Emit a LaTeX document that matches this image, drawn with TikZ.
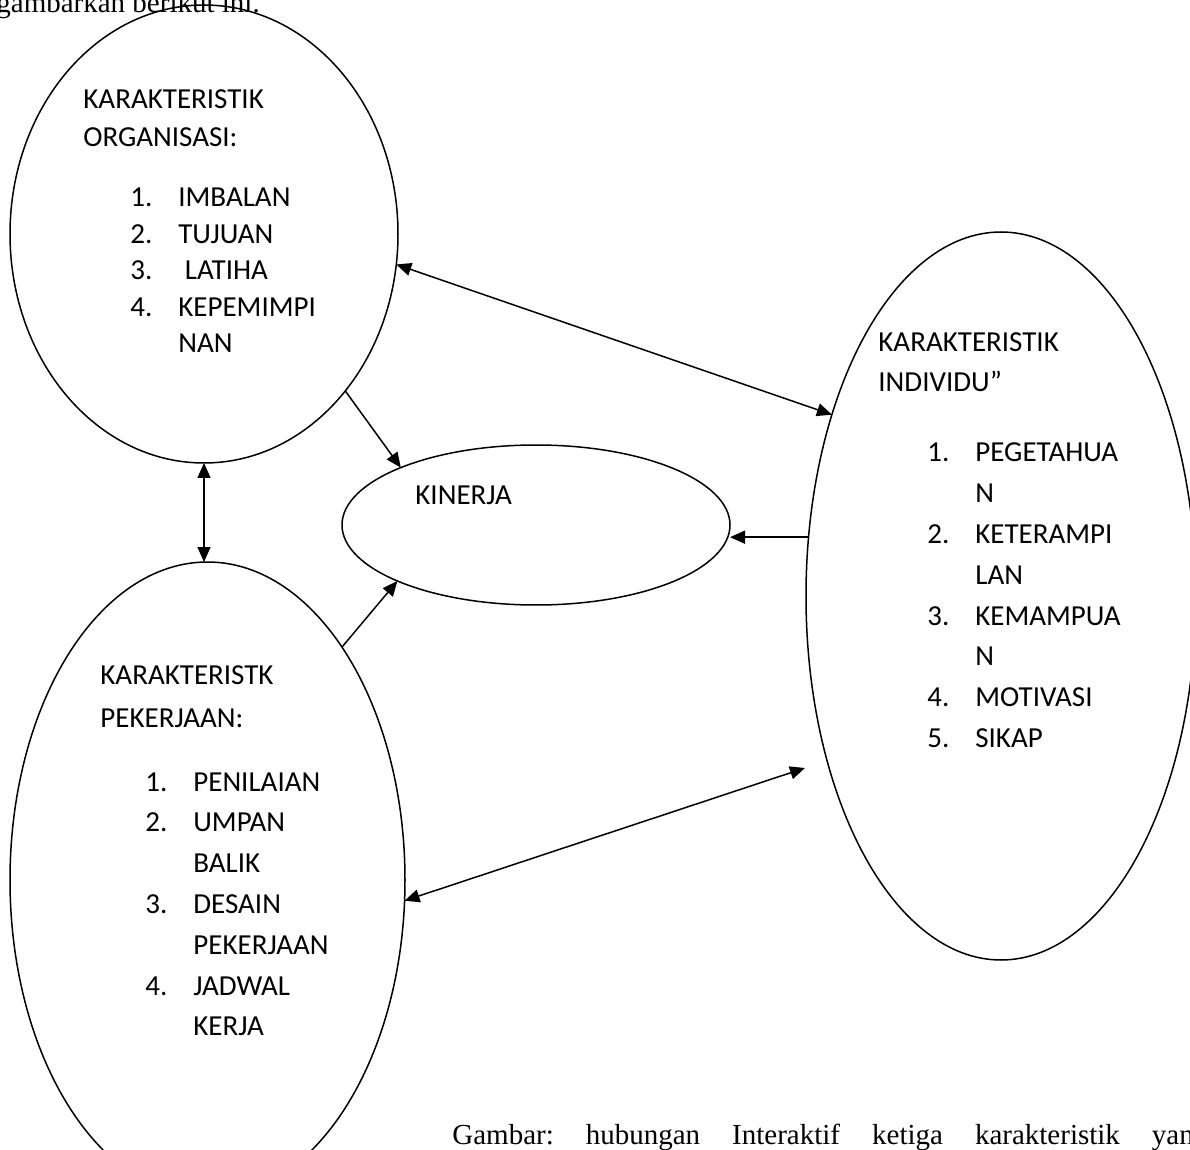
\documentclass[tikz,border=0pt]{standalone}
\usepackage{fontspec}
\setmainfont{Carlito}
\newfontfamily\bodyfont{Liberation Serif}
\usepackage{array}
\usetikzlibrary{arrows.meta, shapes.geometric}

\begin{document}
\begin{tikzpicture}[
    x=0.5pt, y=-0.5pt,
    blob/.style     = {ellipse, draw, line width=0.75pt,
                       inner sep=0pt, outer sep=0pt},
    txt/.style      = {anchor=base west, inner sep=0pt},
    headtxt/.style  = {txt, font=\fontsize{14.5}{20}\selectfont},
    listtxt/.style  = {txt, font=\fontsize{14.5}{20.4}\selectfont},
    bodytxt/.style  = {txt, font=\bodyfont\fontsize{14.5}{17}\selectfont},
    arrow/.style    = {-{Triangle[length=7.5pt,width=6.5pt]}, line width=0.75pt},
    darrow/.style   = {{Triangle[length=7.5pt,width=6.5pt]}-{Triangle[length=7.5pt,width=6.5pt]},
                       line width=0.75pt}
]
\useasboundingbox (0,0) rectangle (1190,1150);
\clip (0,0) rectangle (1190,1150);

% ========= page text =========
\node[bodytxt] (intro) at (-4,13) {gambarkan berikut ini.};
\node[bodytxt] (caption) at (452,1144)
    {Gambar:\hspace{16pt}hubungan\hspace{16pt}Interaktif\hspace{16pt}ketiga\hspace{16pt}karakteristik\hspace{16pt}yan};

% ========= ellipses =========
\node[blob, minimum width=194pt, minimum height=229pt]   (org) at (204,234)   {};
\node[blob, minimum width=197.5pt, minimum height=318pt] (pek) at (207.5,880) {};
\node[blob, minimum width=195pt, minimum height=364pt]   (ind) at (1001,596)  {};
\node[blob, minimum width=194pt, minimum height=80pt]    (kin) at (536,525)   {};

% ========= texts =========
\node[headtxt, font=\fontsize{14.5}{19}\selectfont] (orghead) at (83,109)
    {\begin{tabular}[t]{@{}l@{}}KARAKTERISTIK\\ORGANISASI:\end{tabular}};
\node[listtxt, font=\fontsize{14.5}{18.2}\selectfont] (orglist) at (130,207)
    {\begin{tabular}[t]{@{}p{24pt}@{}l@{}}
      1. & IMBALAN\\
      2. & TUJUAN\\
      3. & \ LATIHA\\
      4. & KEPEMIMPI\\
         & NAN
     \end{tabular}};

\node[headtxt] (indhead) at (878,352)
    {\begin{tabular}[t]{@{}l@{}}KARAKTERISTIK\\INDIVIDU”\end{tabular}};
\node[listtxt] (indlist) at (927,462)
    {\begin{tabular}[t]{@{}p{24pt}@{}l@{}}
      1. & PEGETAHUA\\
         & N\\
      2. & KETERAMPI\\
         & LAN\\
      3. & KEMAMPUA\\
         & N\\
      4. & MOTIVASI\\
      5. & SIKAP
     \end{tabular}};

\node[headtxt, font=\fontsize{14.5}{21.5}\selectfont] (pekhead) at (100,684)
    {\begin{tabular}[t]{@{}l@{}}KARAKTERISTK\\PEKERJAAN:\end{tabular}};
\node[listtxt] (peklist) at (145,791)
    {\begin{tabular}[t]{@{}p{24pt}@{}l@{}}
      1. & PENILAIAN\\
      2. & UMPAN\\
         & BALIK\\
      3. & DESAIN\\
         & PEKERJAAN\\
      4. & JADWAL\\
         & KERJA
     \end{tabular}};

\node[headtxt] (kintxt) at (415,504) {KINERJA};

% ========= connectors =========
\coordinate (indlow) at (805,768);

\draw[darrow] (org.-9.9)  -- (ind.133.4);
\draw[arrow]  (org.-48)   -- (kin.157.6);
\draw[arrow]  (pek.60.9)  -- (kin.202);
\draw[arrow]  (ind.163)   -- (ind.163 -| kin.east);
\draw[darrow] (org.south) -- (org.south |- pek.north);
\draw[darrow] (pek.-6.5)  -- (indlow);

\end{tikzpicture}
\end{document}
